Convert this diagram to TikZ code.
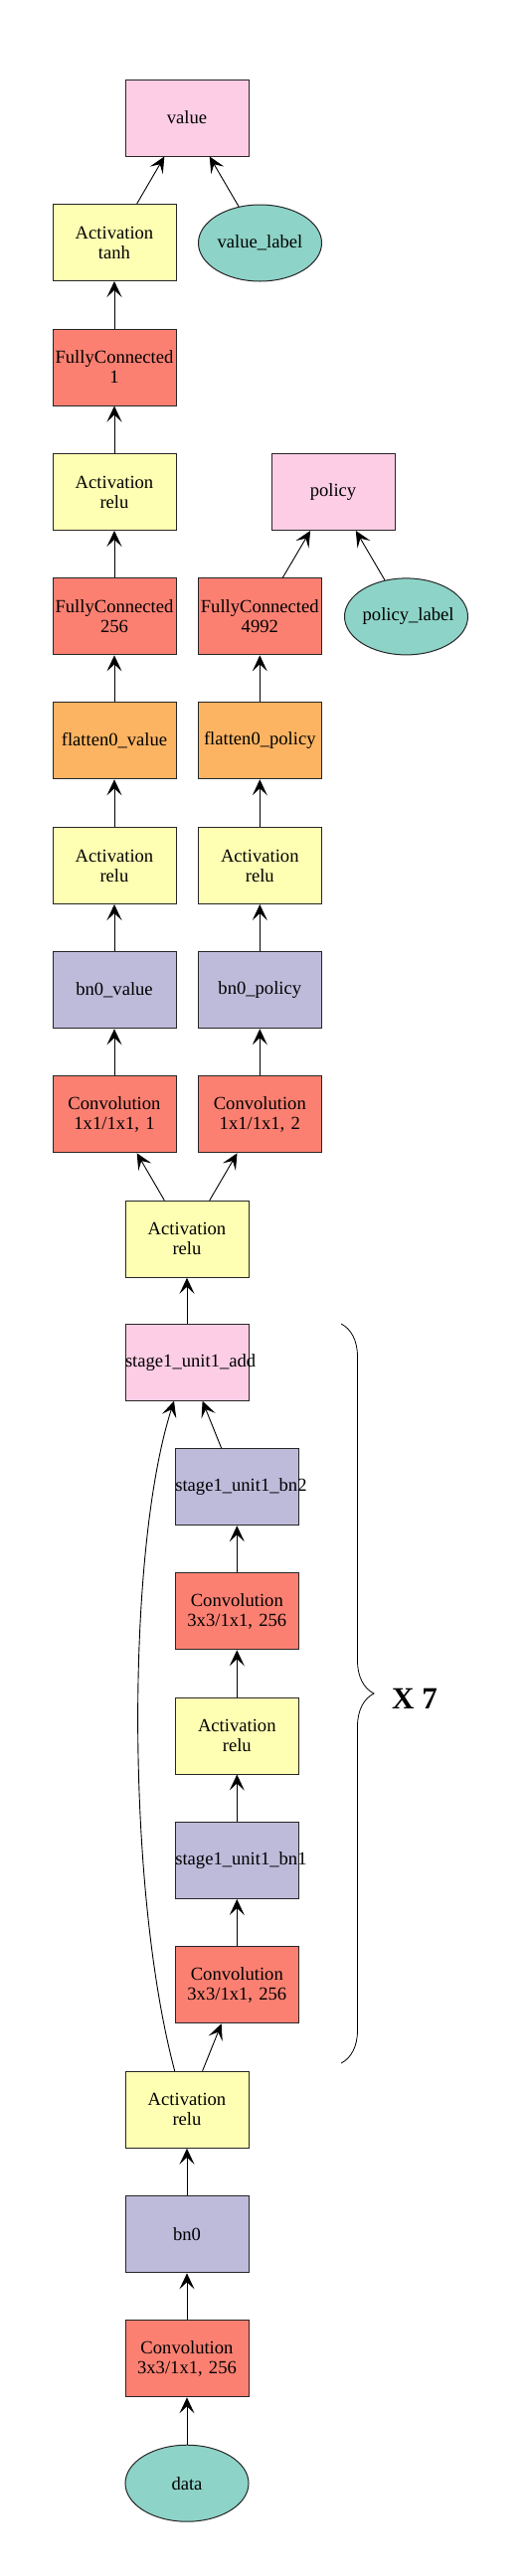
\documentclass[tikz,border=0pt]{standalone}
\usepackage{fontspec}
\setmainfont{Liberation Serif}
\usetikzlibrary{arrows.meta,shapes.geometric,decorations.pathreplacing}
\definecolor{convc}{HTML}{FB8072}
\definecolor{bnc}{HTML}{BEBADA}
\definecolor{actc}{HTML}{FFFFB3}
\definecolor{flatc}{HTML}{FDB462}
\definecolor{addc}{HTML}{FCCDE5}
\definecolor{varc}{HTML}{8DD3C7}

\begin{document}
\begin{tikzpicture}[x=1pt,y=-1pt,font=\fontsize{18.6}{20}\selectfont,
  op/.style={draw=black!85,line width=1pt,inner sep=0pt,text width=124pt,minimum height=77pt,align=center},
  var/.style={ellipse,draw=black!85,fill=varc,line width=1pt,inner sep=0pt,text width=87.7pt,minimum height=77pt,align=center},
  conv/.style={op,fill=convc},bn/.style={op,fill=bnc},act/.style={op,fill=actc},
  flat/.style={op,fill=flatc},sum/.style={op,fill=addc},
  link/.style={-{Stealth[length=16pt,width=15pt,inset=7pt]},line width=0.9pt}]
  \useasboundingbox (0,0) rectangle (531,2592);
  % value head
  \node[sum] (value) at (188,118.5) {value};
  \node[act] (tanh) at (115,244) {Activation\\tanh};
  \node[var] (vlabel) at (261.5,244.5) {value\_label};
  \node[conv] (fc1) at (115,369.5) {FullyConnected\\1};
  \node[act] (vrelu2) at (115,495) {Activation\\relu};
  \node[conv] (fc256) at (115,620.4) {FullyConnected\\256};
  \node[flat] (vflat) at (115,745.3) {flatten0\_value};
  \node[act] (vrelu) at (115,871) {Activation\\relu};
  \node[bn] (vbn) at (115,996.3) {bn0\_value};
  \node[conv] (vconv) at (115,1121.3) {Convolution\\1x1/1x1, 1};
  % policy head
  \node[sum] (policy) at (335,495) {policy};
  \node[conv] (fcpol) at (261.3,620.4) {FullyConnected\\4992};
  \node[var] (plabel) at (408.5,620.4) {policy\_label};
  \node[flat] (pflat) at (261.3,745.3) {flatten0\_policy};
  \node[act] (prelu) at (261.3,871) {Activation\\relu};
  \node[bn] (pbn) at (261.3,996.3) {bn0\_policy};
  \node[conv] (pconv) at (261.3,1121.3) {Convolution\\1x1/1x1, 2};
  % trunk
  \node[act] (relu1) at (188,1246.8) {Activation\\relu};
  \node[sum] (add) at (188,1370.7) {stage1\_unit1\_add};
  \node[bn] (bn2) at (238.3,1496.2) {stage1\_unit1\_bn2};
  \node[conv] (conv2) at (238.3,1621.3) {Convolution\\3x3/1x1, 256};
  \node[act] (urelu) at (238.3,1746.5) {Activation\\relu};
  \node[bn] (bn1) at (238.3,1872) {stage1\_unit1\_bn1};
  \node[conv] (conv1) at (238.3,1997.3) {Convolution\\3x3/1x1, 256};
  \node[act] (relu0) at (188,2122.8) {Activation\\relu};
  \node[bn] (bn0) at (188,2248.3) {bn0};
  \node[conv] (conv0) at (188,2373.3) {Convolution\\3x3/1x1, 256};
  \node[var] (data) at (188,2498.7) {data};

  \foreach \a/\b in {data/conv0,conv0/bn0,bn0/relu0,relu0/conv1,conv1/bn1,bn1/urelu,
    urelu/conv2,conv2/bn2,bn2/add,add/relu1,relu1/vconv,relu1/pconv,vconv/vbn,pconv/pbn,
    vbn/vrelu,pbn/prelu,vrelu/vflat,prelu/pflat,vflat/fc256,pflat/fcpol,fc256/vrelu2,
    vrelu2/fc1,fc1/tanh,tanh/value,vlabel/value,fcpol/policy,plabel/policy}
    \draw[link] (\a) -- (\b);
  % shortcut
  \draw[link] ([xshift=-12.3pt]relu0.north) .. controls +(-49,-184) and +(-48,150) .. ([xshift=-13pt]add.south);

  \draw[decorate,decoration={brace,amplitude=33pt},line width=0.8pt] (343,1332) -- (343,2076);
  \node[font=\fontsize{31}{34}\selectfont\bfseries] (rep) at (417,1709) {X 7};
\end{tikzpicture}
\end{document}
